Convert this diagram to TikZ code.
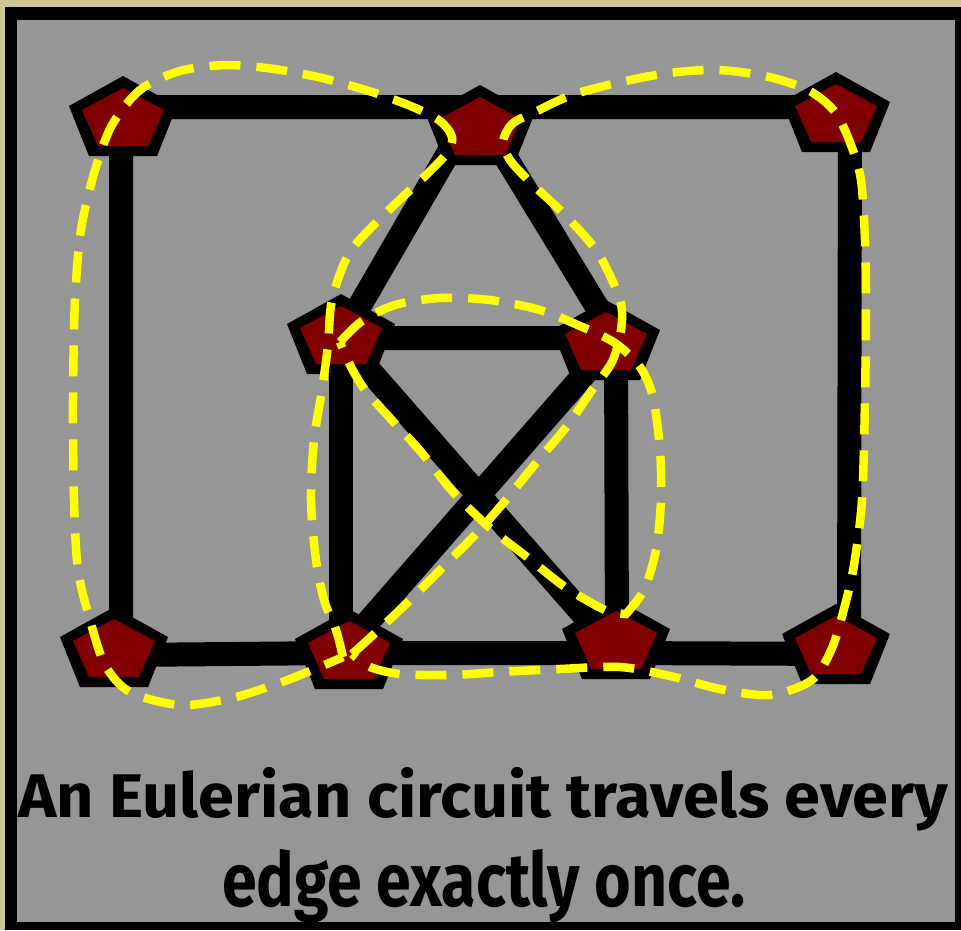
\documentclass[tikz,border=0pt]{standalone}
\usepackage{fontspec}
\setmainfont{Fira Sans}
\definecolor{beige}{RGB}{204,199,148}
\definecolor{bggray}{RGB}{150,150,150}
\definecolor{nodered}{RGB}{128,0,0}
\definecolor{pathyellow}{RGB}{255,255,0}
\begin{document}
\begin{tikzpicture}[x=1pt,y=-1pt,
  edge/.style={line width=24pt, black, line join=round},
  circuit/.style={line width=8.5pt, pathyellow, dash pattern=on 31pt off 16pt},
  vertexpent/.pic={
    \fill[black] (0,-44) -- (54,-14) -- (34,36) -- (-34,36) -- (-54,-14) -- cycle;
    \fill[nodered] (0,-32) -- (41,-10) -- (25,26) -- (-25,26) -- (-41,-10) -- cycle;
  }]
\useasboundingbox (0,0) rectangle (961,930);
% frame
\fill[beige] (0,0) rectangle (961,930);
\fill[black] (5,7) rectangle (961,930);
\fill[bggray] (17,20) rectangle (955,922);

% junctions
\coordinate (tl) at (121,107);
\coordinate (tm) at (475,107);
\coordinate (tr) at (850,107);
\coordinate (ml) at (341,338);
\coordinate (mr) at (616,338);
\coordinate (bl) at (121,655);
\coordinate (bma) at (341,653);
\coordinate (bmb) at (617,653);
\coordinate (br) at (849,654);

% vertex centres
\coordinate (TLc) at (123,120);
\coordinate (TMc) at (480,129);
\coordinate (TRc) at (836,116);
\coordinate (MLc) at (341,338);
\coordinate (MRc) at (606,344);
\coordinate (BLc) at (114,651);
\coordinate (BMAc) at (349,653);
\coordinate (BMBc) at (616,643);
\coordinate (BRc) at (836,648);

% edges
\draw[edge] (tm) -- (tl) -- (bl) -- (bma) -- (bmb) -- (br) -- (tr) -- cycle;
\draw[edge] (ml) -- (tm) -- (mr) -- cycle;
\draw[edge] (ml) -- (bma);
\draw[edge] (mr) -- (bmb);
\draw[edge] (ml) -- (bmb);
\draw[edge] (mr) -- (bma);

% vertices
\foreach \v in {TLc,TMc,TRc,MLc,MRc,BLc,BMAc,BMBc,BRc}
  \pic at (\v) {vertexpent};

% Eulerian circuit (three closed trails)
\draw[circuit] plot[smooth] coordinates {(343,657) (336,630) (324,600) (316,560) (311,500) (314,440) (322,390) (328,345) (332,300) (350,252) (388,211) (423,178) (447,153) (452,137) (440,121) (413,107) (372,92) (322,78) (274,69) (227,65) (180,71) (140,90) (112,125) (95,170) (81,230) (75,300) (73,400) (74,500) (78,570) (90,620) (105,665) (130,692) (180,705) (232,698) (282,682) (322,666) (343,657)};

\draw[circuit] plot[smooth] coordinates {(352,654) (372,636) (407,603) (442,568) (475,535) (505,501) (536,463) (567,426) (592,390) (612,362) (621,330) (620,300) (598,253) (565,215) (530,182) (510,160) (503,142) (512,124) (535,112) (572,95) (621,82) (669,73) (717,70) (765,76) (808,90) (835,112) (851,145) (861,180) (865,240) (866,300) (865,400) (862,500) (854,565) (845,605) (832,648) (812,680) (770,695) (720,689) (670,676) (620,667) (560,669) (500,672) (450,675) (400,674) (370,667) (352,654)};

\draw[circuit] plot[smooth] coordinates {(340,342) (362,321) (395,305) (440,298) (490,300) (540,310) (580,326) (615,343) (640,367) (653,397) (660,450) (661,500) (656,550) (644,590) (626,614)}
  -- plot[smooth] coordinates {(626,614) (605,610) (565,587) (527,557) (490,528) (453,492) (422,453) (390,418) (365,390) (350,365) (340,342)};

% caption
\node[anchor=base west, inner sep=0pt] (capone) at (18,817)
  {\resizebox{930pt}{50pt}{\bfseries An Eulerian circuit travels every}};
\node[anchor=base west, inner sep=0pt] (captwo) at (222,906)
  {\resizebox{523pt}{57pt}{\bfseries edge exactly once.}};
\end{tikzpicture}
\end{document}
